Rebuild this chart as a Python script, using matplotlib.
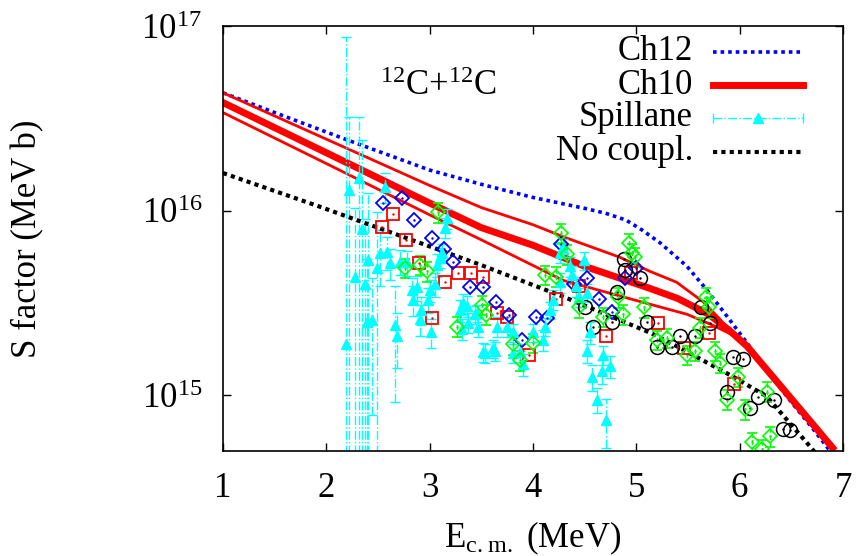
import numpy as np
import matplotlib
matplotlib.use('Agg')
import matplotlib.pyplot as plt

plt.rcParams['font.family'] = ['Liberation Serif', 'DejaVu Serif']
plt.rcParams['mathtext.default'] = 'regular'
plt.rcParams['font.size'] = 25

# --- model curves (E in MeV, S in MeV b)
ch12_e = [1.0, 1.5, 2.2, 3.0, 3.5, 4.0, 4.5, 4.7, 4.9, 5.05, 5.23, 5.49, 5.68, 5.88, 6.07,
          6.3, 6.5, 6.7, 6.9]
ch12_s = [4.35e16, 3.4e16, 2.42e16, 1.66e16, 1.39e16, 1.18e16, 1.03e16, 9.7e15, 8.9e15,
          7.9e15, 6.7e15, 5.0e15, 3.74e15, 2.67e15, 1.93e15, 1.28e15, 9.2e14, 6.7e14, 4.8e14]

ch10_e = [1.0, 2.0, 3.0, 3.5, 4.0, 4.5, 5.13, 5.4, 5.7, 5.9, 6.07, 6.5, 6.9]
ch10_s = [3.85e16, 2.06e16, 1.1e16, 8.1e15, 6.5e15, 5.0e15, 3.8e15, 3.35e15, 2.75e15,
          2.25e15, 1.85e15, 9.6e14, 5.2e14]

ch10_up_e = [1.0, 2.0, 3.0, 3.5, 4.0, 4.3, 4.84, 5.13, 5.39, 5.65, 5.8, 5.9, 6.07, 6.5, 6.9]
ch10_up_s = [4.35e16, 2.44e16, 1.37e16, 1.04e16, 8.4e15, 7.2e15, 5.6e15, 4.7e15, 4.1e15,
             3.2e15, 2.62e15, 2.25e15, 1.85e15, 9.6e14, 5.2e14]

ch10_lo_e = [1.0, 2.0, 3.0, 3.49, 4.29, 4.97, 5.49, 5.74, 5.95, 6.07, 6.5, 6.9]
ch10_lo_s = [3.4e16, 1.8e16, 9.5e15, 7.0e15, 4.2e15, 3.3e15, 2.75e15, 2.4e15, 2.1e15,
             1.85e15, 9.6e14, 5.2e14]

nocoup_e = [1.0, 1.94, 3.49, 4.29, 5.13, 5.35, 5.94, 6.26, 6.68, 6.8]
nocoup_s = [1.6e16, 1.05e16, 5.1e15, 3.43e15, 2.19e15, 1.9e15, 1.26e15, 9.9e14, 5.3e14, 4.4e14]

# --- Spillane data
sp_e = [2.19, 2.22, 2.32, 2.28, 2.35, 2.37, 2.40, 2.39, 2.44, 2.49, 2.52, 2.57, 2.59, 2.62,
        2.66, 2.68, 2.71, 2.78, 2.83, 2.84, 2.88, 2.92, 2.91, 2.98, 3.01, 3.00, 3.05, 3.07,
        3.10, 3.12, 3.15, 3.17, 3.29, 3.31, 3.32, 3.36, 3.37, 3.44, 3.46, 3.47, 3.52, 3.54,
        3.61, 3.63, 3.65, 3.75, 3.81, 3.81, 3.87, 3.90, 4.00, 4.10, 4.12, 4.16, 4.19, 4.26,
        4.26, 4.29, 4.36, 4.38, 4.42, 4.45, 4.49, 4.52, 4.55, 4.52, 4.57, 4.62, 4.67, 4.68,
        4.71, 4.75]
sp_s = [1.9e15, 1.3e16, 1.5e16, 4.4e15, 8.0e15, 4.0e15, 5.4e15, 2.5e15, 2.55e15, 4.9e15,
        5.9e15, 1.35e16, 6.0e15, 5.2e15, 2.42e15, 2.1e15, 5.3e15, 5.25e15, 3.74e15, 3.3e15,
        3.84e15, 2.9e15, 2.6e15, 3.3e15, 2.2e15, 3.7e15, 4.0e15, 5.1e15, 5.6e15, 5.9e15,
        8.1e15, 9.1e15, 2.9e15, 2.3e15, 3.16e15, 3.05e15, 2.48e15, 2.75e15, 2.8e15, 2.36e15,
        1.72e15, 1.7e15, 1.8e15, 1.74e15, 2.36e15, 2.36e15, 1.7e15, 2.2e15, 1.71e15, 1.48e15,
        2.2e15, 2.0e15, 2.36e15, 2.9e15, 3.3e15, 4.1e15, 5.9e15, 6.3e15, 5.0e15, 4.5e15,
        3.9e15, 3.4e15, 5.4e15, 3.6e15, 2.2e15, 1.74e15, 1.26e15, 9.5e14, 1.35e15, 1.66e15,
        7.4e14, 1.44e15]
sp_ds = [8.5e16, 1.9e16, 1.7e16, 6e15, 1.6e16, 5e15, 7e15, 3e15, 1.77e15, 5e15,
         2e15, 2.5e15, 1.2e15, 1.0e15, 1.5e15, 7e14, 8e14, 8e14, 6e14, 6e14,
         6e14, 5e14, 5e14, 5e14, 4e14, 5e14, 6e14, 7e14, 7e14, 7e14,
         1e15, 1.1e15, 4e14, 3e14, 4e14, 4e14, 3e14, 3e14, 3e14, 3e14,
         2e14, 2e14, 2e14, 2e14, 3e14, 3e14, 2e14, 2.5e14, 2e14, 2e14,
         2.5e14, 2.5e14, 2.5e14, 3e14, 4e14, 5e14, 7e14, 7e14, 6e14, 5e14,
         5e14, 4e14, 6e14, 4e14, 3e14, 2.5e14, 2e14, 1.5e14, 2e14, 2e14,
         2.2e14, 2e14]

# --- other data sets
sq_e = [2.54, 2.65, 2.77, 2.90, 3.02, 3.15, 3.27, 3.40, 3.52, 3.65, 3.75, 3.96, 4.22, 4.45,
        4.71, 4.95, 5.21, 5.46, 5.70, 5.95]
sq_s = [8.2e15, 9.6e15, 6.9e15, 5.2e15, 2.63e15, 4.1e15, 4.6e15, 4.6e15, 4.4e15, 2.8e15,
        2.67e15, 1.66e15, 3.34e15, 3.9e15, 2.11e15, 4.6e15, 2.46e15, 1.8e15, 2.19e15, 1.15e15]

bd_e = [2.55, 2.73, 2.85, 3.02, 3.14, 3.23, 3.39, 3.52, 3.64, 3.77, 3.89, 4.03, 4.14, 4.27,
        4.40, 4.52, 4.64, 4.76, 4.89, 5.00]
bd_s = [1.1e16, 1.17e16, 8.9e15, 7.1e15, 6.2e15, 5.25e15, 3.84e15, 3.84e15, 3.2e15, 2.74e15,
        2.0e15, 2.67e15, 2.63e15, 6.6e15, 4.0e15, 4.3e15, 3.34e15, 2.84e15, 4.3e15, 4.9e15]

gd_e = [2.76, 2.91, 2.97, 3.08, 3.26, 3.51, 3.55, 3.81, 3.87, 4.00, 4.12, 4.22, 4.27, 4.33,
        4.45, 4.68, 4.82, 4.87, 4.93, 4.96, 4.99, 5.07, 5.20, 5.30, 5.49, 5.57, 5.62, 5.67,
        5.70, 5.76, 5.81, 5.88, 5.98, 6.05, 6.12, 6.22, 6.26, 6.29]
gd_s = [4.9e15, 5.1e15, 4.7e15, 9.8e15, 2.36e15, 3.1e15, 2.74e15, 1.89e15, 1.55e15, 1.93e15,
        4.5e15, 4.4e15, 7.6e15, 5.8e15, 3.0e15, 2.67e15, 3.39e15, 2.75e15, 6.7e15, 5.9e15,
        5.6e15, 3.0e15, 2.0e15, 2.05e15, 1.66e15, 1.74e15, 2.33e15, 3.4e15, 3.0e15, 1.74e15,
        1.5e15, 9.5e14, 1.26e15, 8.4e14, 5.6e14, 5.1e14, 1.05e15, 6.0e14]
gd_rel = 0.12

bc_e = [4.50, 4.58, 4.76, 4.81, 4.88, 4.89, 5.04, 5.10, 5.20, 5.35, 5.42, 5.57, 5.63, 5.71,
        5.88, 5.94, 6.03, 6.10, 6.18, 6.33, 6.42, 6.49]
bc_s = [3.0e15, 2.36e15, 2.5e15, 3.65e15, 5.5e15, 4.8e15, 4.3e15, 2.5e15, 1.84e15, 1.84e15,
        2.1e15, 2.1e15, 3.0e15, 2.48e15, 1.05e15, 1.62e15, 1.58e15, 8.6e14, 9.8e14, 9.5e14,
        6.6e14, 6.5e14]

legend_labels = ['Ch12', 'Ch10', 'Spillane', 'No coupl.']

cyan = '#00ffff'
green = '#00ff00'

fig = plt.figure(figsize=(8.56, 5.56), dpi=100)
ax = fig.add_axes([0.2605, 0.1888, 0.7243, 0.7644])

ax.plot(ch12_e, ch12_s, color='#0000ff', lw=2.6, ls=(0, (1.0, 1.1)))
ax.plot(ch10_up_e, ch10_up_s, color='red', lw=2.0)
ax.plot(ch10_lo_e, ch10_lo_s, color='red', lw=2.0)
ax.plot(ch10_e, ch10_s, color='red', lw=5.0)

# Spillane with dash-dot error bars
sp_s_a = np.array(sp_s)
sp_ds_a = np.array(sp_ds)
lo = np.minimum(sp_ds_a, sp_s_a - 1e13)
sp = ax.errorbar(sp_e, sp_s, yerr=[lo, sp_ds_a], fmt='^', color=cyan, ms=7,
                 capsize=3.5, elinewidth=1.0, capthick=1.0)
sp[2][0].set_linestyle('-.')

ax.plot(nocoup_e, nocoup_s, color='black', lw=3.0, ls=(0, (1.0, 1.0)))

# green diamonds with dashed error bars
gd_s_a = np.array(gd_s)
gd = ax.errorbar(gd_e, gd_s, yerr=gd_rel * gd_s_a, fmt='D', mfc='none', mec=green,
                 color=green, ms=7.5, mew=1.2, capsize=3.5, elinewidth=1.0, capthick=1.0)
gd[2][0].set_linestyle('--')
ax.plot(gd_e, gd_s, ls='none', marker='.', ms=1.5, color=green)

ax.plot(sq_e, sq_s, ls='none', marker='s', mfc='none', mec='red', ms=8.5, mew=1.3)
ax.plot(sq_e, sq_s, ls='none', marker='.', ms=1.5, color='red')
ax.plot(bd_e, bd_s, ls='none', marker='D', mfc='none', mec='#0000ff', ms=7.5, mew=1.3)
ax.plot(bd_e, bd_s, ls='none', marker='.', ms=1.5, color='#0000ff')
ax.plot(bc_e, bc_s, ls='none', marker='o', mfc='none', mec='black', ms=10, mew=1.1)
ax.plot(bc_e, bc_s, ls='none', marker='.', ms=1.5, color='black')

ax.set_yscale('log')
ax.set_xlim(1, 7)
ax.set_ylim(5e14, 1e17)
ax.set_xticks([1, 2, 3, 4, 5, 6, 7])
ax.set_yticks([1e15, 1e16, 1e17])
ax.set_yticklabels(['$10^{15}$', '$10^{16}$', '$10^{17}$'])
ax.minorticks_off()
ax.tick_params(direction='in', length=6, width=1, top=True, right=True)
ax.tick_params(axis='x', pad=15)
ax.tick_params(axis='y', pad=15)
for sp_ in ax.spines.values():
    sp_.set_linewidth(1.2)

ax.set_xlabel('E$_{c.m.}$ (MeV)', va='top')
ax.xaxis.set_label_coords(0.5, -0.162)
ax.set_ylabel('S factor (MeV b)', va='center')
ax.yaxis.set_label_coords(-0.315, 0.5)

ax.text(0.253, 0.838, '$^{12}$C+$^{12}$C', transform=ax.transAxes, ha='left', va='baseline')

# gnuplot-style key, text right aligned
rows = [0.939, 0.861, 0.784, 0.704]
tx, l0, l1 = 0.758, 0.790, 0.935
for lab, yy in zip(legend_labels, rows):
    ax.text(tx, yy, lab, transform=ax.transAxes, ha='right', va='center')
ax.plot([l0, l1], [rows[0]] * 2, transform=ax.transAxes, color='#0000ff', lw=2.6,
        ls=(0, (1.0, 1.1)))
ax.plot([l0, l1], [rows[1]] * 2, transform=ax.transAxes, color='red', lw=5.0)
ax.plot([l0, l1], [rows[2]] * 2, transform=ax.transAxes, color=cyan, lw=1.0, ls='-.')
ax.plot([l0, l1], [rows[2]] * 2, transform=ax.transAxes, ls='none', marker='|',
        ms=7, mew=1.0, color=cyan)
ax.plot([(l0 + l1) / 2], [rows[2]], transform=ax.transAxes, marker='^', ms=7, color=cyan)
ax.plot([l0, l1], [rows[3]] * 2, transform=ax.transAxes, color='black', lw=3.0,
        ls=(0, (1.0, 1.0)))

fig.savefig('out.png', dpi=100)
